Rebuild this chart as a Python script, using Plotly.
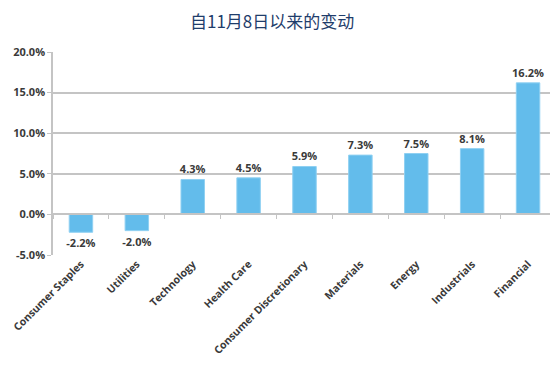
import plotly.graph_objects as go

categories = ["Consumer Staples", "Utilities", "Technology", "Health Care",
              "Consumer Discretionary", "Materials", "Energy", "Industrials", "Financial"]
values = [-2.2, -2.0, 4.3, 4.5, 5.9, 7.3, 7.5, 8.1, 16.2]
title_text = "自11月8日以来的变动"
y_ticks = [-5, 0, 5, 10, 15, 20]

bar_color = "#63BCEB"
grid_color = "#C4C4C4"
text_color = "#3A3A3A"
font_family = "'Open Sans', Lato, sans-serif"

fig = go.Figure()
fig.add_trace(go.Bar(
    x=categories, y=values,
    marker=dict(color=bar_color, line=dict(color="#8FD0F2", width=1)),
    width=0.42,
    text=[f"{v:.1f}%" for v in values],
    textposition="outside",
    constraintext="none",
    textfont=dict(family=font_family, size=11, color=text_color, weight="bold"),
    cliponaxis=False,
))
# helper trace for axis line at zero with boundary ticks
fig.add_trace(go.Scatter(x=categories, y=[0]*len(categories), xaxis="x2",
                         mode="markers", marker=dict(opacity=0), hoverinfo="skip",
                         showlegend=False))

# page body has an 8px margin, so the figure is offset by 8px right/down;
# size the figure so it fits inside the 558x375 window
fig.update_layout(
    width=550, height=367,
    margin=dict(l=45, r=2, t=44, b=120, autoexpand=False),
    paper_bgcolor="white", plot_bgcolor="white",
    showlegend=False,
    xaxis=dict(
        tickangle=-45, showline=False, showgrid=False, ticks="", automargin=False,
        tickfont=dict(family=font_family, size=10.5, color=text_color, weight="bold"),
        range=[-0.5, len(categories) - 0.5],
    ),
    xaxis2=dict(
        overlaying="x", anchor="free", position=0.2, matches="x",
        showline=True, linecolor=grid_color, linewidth=1.5,
        ticks="outside", ticklen=4, tickcolor=grid_color, tickson="boundaries",
        showticklabels=False, showgrid=False,
    ),
    yaxis=dict(
        range=[-5, 20], tickvals=y_ticks, automargin=False,
        ticktext=[f"{v:.1f}%" for v in y_ticks],
        showgrid=True, gridcolor=grid_color, gridwidth=1.5,
        zeroline=False, showline=True, linecolor=grid_color, linewidth=1.5,
        ticks="outside", ticklen=4, tickcolor=grid_color,
        tickfont=dict(family=font_family, size=11, color=text_color, weight="bold"),
    ),
    bargap=0.58,
    annotations=[dict(
        text=title_text, xref="paper", yref="paper",
        x=0.435, y=1.0, xanchor="center", yanchor="middle", yshift=32,
        showarrow=False,
        font=dict(family="'Noto Sans CJK SC', sans-serif", size=17, color="#1F3D6B"),
    )],
)

fig.write_html("out.html")
